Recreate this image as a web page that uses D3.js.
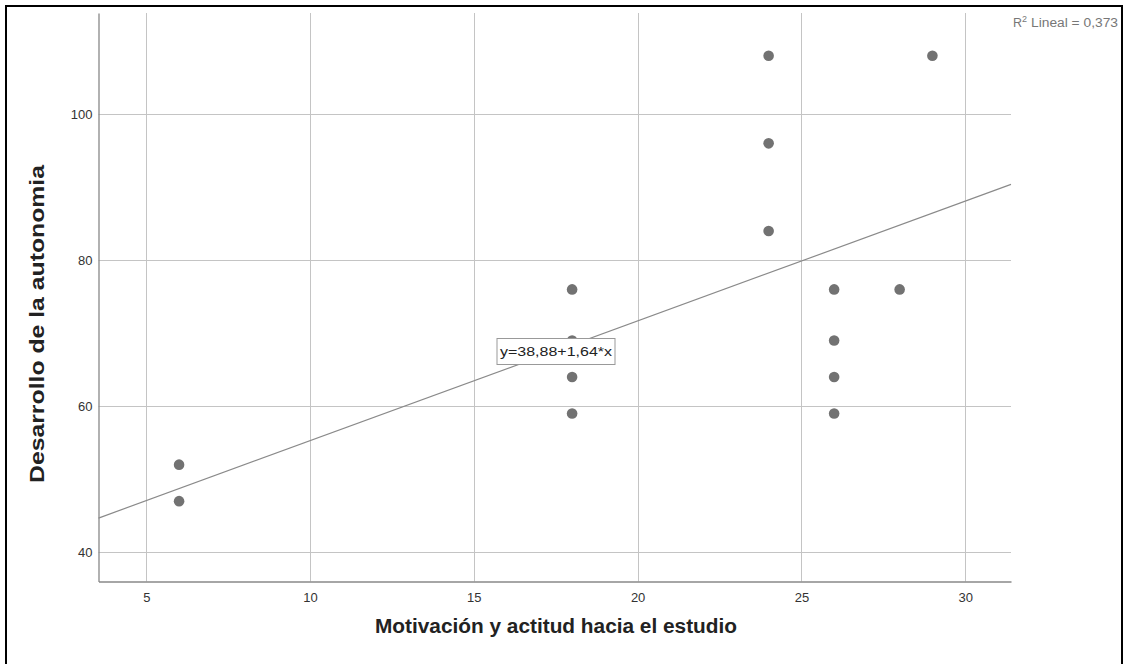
<!DOCTYPE html>
<html><head><meta charset="utf-8">
<script src="https://cdn.jsdelivr.net/npm/d3@7"></script>
<style>body{margin:0;background:#fff;}svg{display:block;font-family:Arial,"Liberation Sans",sans-serif;}</style>
</head><body>
<svg id="c" width="1127" height="664"></svg>
<script>
const xValues = [6, 6, 18, 18, 18, 18, 24, 24, 24, 26, 26, 26, 26, 28, 29];
const yValues = [52, 47, 76, 69, 64, 59, 108, 96, 84, 76, 69, 64, 59, 76, 108];
const xTicks = [5, 10, 15, 20, 25, 30];
const yTicks = [40, 60, 80, 100];
const intercept = 38.88, slope = 1.64;
const fitLabel = "y=38,88+1,64*x";
const r2Label = "Lineal = 0,373";
const xTitle = "Motivación y actitud hacia el estudio";
const yTitle = "Desarrollo de la autonomia";

const svg = d3.select("#c");
const L = 98.5, R = 1011, T = 13, B = 581.5;
const x = d3.scaleLinear().domain([3.54, 31.4]).range([L, R]);
const y = d3.scaleLinear().domain([36.0, 113.85]).range([B, T]);

// outer frame
svg.append("rect").attr("x",6).attr("y",6).attr("width",1116).attr("height",670)
  .attr("fill","none").attr("stroke","#000").attr("stroke-width",2);

// grid
const g = svg.append("g");
g.selectAll("line.vx").data(xTicks).join("line")
  .attr("x1",d=>Math.round(x(d))+0.5).attr("x2",d=>Math.round(x(d))+0.5)
  .attr("y1",T).attr("y2",B).attr("stroke","#c4c4c4").attr("stroke-width",1);
g.selectAll("line.hy").data(yTicks).join("line")
  .attr("y1",d=>Math.round(y(d))+0.5).attr("y2",d=>Math.round(y(d))+0.5)
  .attr("x1",L).attr("x2",R).attr("stroke","#c4c4c4").attr("stroke-width",1);

// axes
const xAxis = d3.axisBottom(x).tickValues(xTicks).tickSize(0).tickPadding(11);
const yAxis = d3.axisLeft(y).tickValues(yTicks).tickSize(0).tickPadding(6);
const gx = svg.append("g").attr("transform",`translate(0,${B})`).call(xAxis);
const gy = svg.append("g").attr("transform",`translate(${L},0)`).call(yAxis);
[gx, gy].forEach(a=>{
  a.select(".domain").attr("stroke","#888").attr("stroke-width",1.3);
  a.selectAll("text").attr("font-size",13).attr("fill","#333").attr("font-family","Arial, 'Liberation Sans', sans-serif");
});

// regression line
const [x0, x1] = x.domain();
svg.append("line")
  .attr("x1",x(x0)).attr("y1",y(intercept+slope*x0))
  .attr("x2",x(x1)).attr("y2",y(intercept+slope*x1))
  .attr("stroke","#8a8a8a").attr("stroke-width",1.2);

// points
svg.selectAll("circle.pt").data(xValues.map((v,i)=>[v,yValues[i]])).join("circle")
  .attr("cx",d=>x(d[0])).attr("cy",d=>y(d[1])).attr("r",5.3).attr("fill","#727272");

// fit label
svg.append("rect").attr("x",497).attr("y",338.5).attr("width",118).attr("height",26)
  .attr("fill","#fff").attr("stroke","#999").attr("stroke-width",1);
svg.append("text").attr("x",556).attr("y",351.5).attr("text-anchor","middle")
  .attr("dominant-baseline","central").attr("font-size",13.5).attr("fill","#222")
  .attr("textLength",112).attr("lengthAdjust","spacingAndGlyphs")
  .text(fitLabel);

// R2 label
const r2 = svg.append("text").attr("x",1013).attr("y",27)
  .attr("font-size",12.5).attr("fill","#777");
r2.append("tspan").text("R");
r2.append("tspan").attr("dy",-5).attr("font-size",9).text("2");
r2.append("tspan").attr("dy",5).attr("x",1031).attr("textLength",87).attr("lengthAdjust","spacingAndGlyphs").text(r2Label);

// titles
svg.append("text").attr("x",375).attr("y",633)
  .attr("font-size",19.5).attr("font-weight","bold").attr("fill","#222")
  .attr("textLength",362).attr("lengthAdjust","spacingAndGlyphs").text(xTitle);
svg.append("text").attr("transform","translate(44,483) rotate(-90)")
  .attr("font-size",19.5).attr("font-weight","bold").attr("fill","#222")
  .attr("textLength",318).attr("lengthAdjust","spacingAndGlyphs").text(yTitle);
</script>
</body></html>
